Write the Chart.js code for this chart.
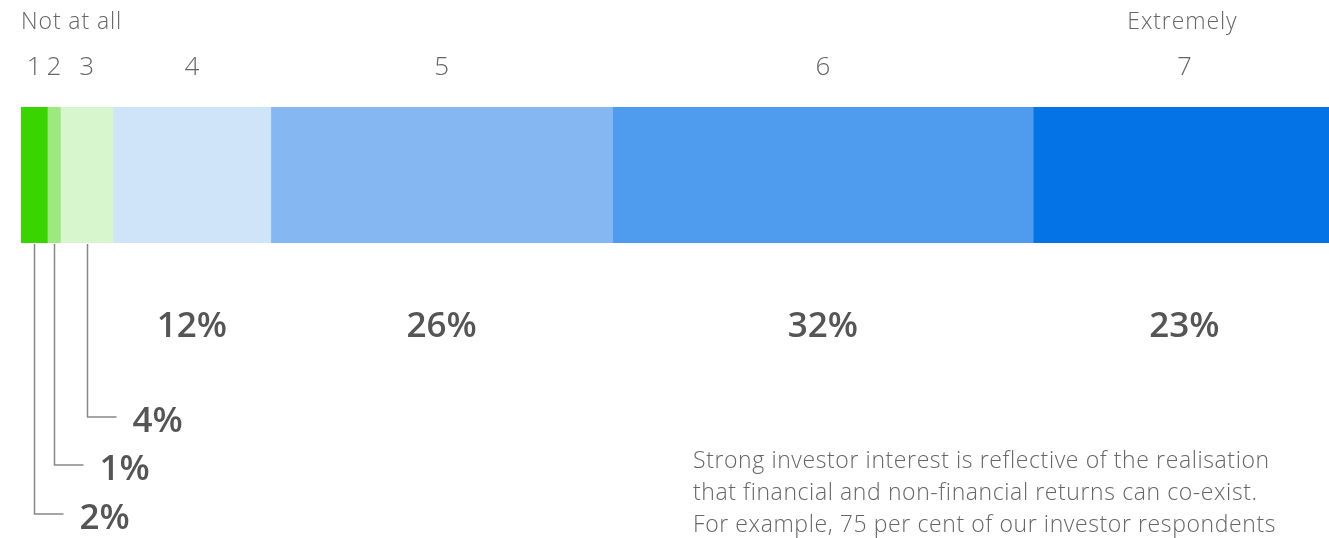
<!DOCTYPE html>
<html>
<head>
<meta charset="utf-8">
<script src="https://cdn.jsdelivr.net/npm/chart.js@4"></script>
<style>
  html, body { margin: 0; padding: 0; background: #fff; }
  #wrap { position: relative; width: 1329px; height: 538px; }
</style>
</head>
<body>
<div id="wrap"><canvas id="graficoBarra" width="1329" height="538"></canvas></div>
<script>
const escala = ['1', '2', '3', '4', '5', '6', '7'];
const valores = [2, 1, 4, 12, 26, 32, 23];
const cores = ['#3ad400', '#9de87f', '#d7f6cd', '#cfe3f9', '#85b8f3', '#4f9cef', '#0473e6'];
const rotuloEsquerda = 'Not at all';
const rotuloDireita = 'Extremely';
const nota = [
  'Strong investor interest is reflective of the realisation',
  'that financial and non-financial returns can co-exist.',
  'For example, 75 per cent of our investor respondents'
];

const fonte = '"Open Sans", "Noto Sans", sans-serif';

const rotulos = {
  id: 'rotulos',
  afterDraw(chart) {
    const ctx = chart.ctx;
    const x = chart.scales.x;
    let acumulado = 0;
    const centros = valores.map(v => {
      const c = x.getPixelForValue(acumulado + v / 2);
      acumulado += v;
      return c;
    });
    const area = chart.chartArea;
    ctx.save();

    // top labels
    ctx.fillStyle = '#666';
    ctx.textBaseline = 'middle';
    ctx.font = '300 23px ' + fonte;
    ctx.letterSpacing = '0.9px';
    ctx.textAlign = 'left';
    ctx.fillText(rotuloEsquerda, area.left, 22);
    ctx.textAlign = 'center';
    ctx.fillText(rotuloDireita, centros[6] - 2, 22);
    ctx.letterSpacing = '0px';
    ctx.font = '300 26px ' + fonte;
    escala.forEach((e, i) => ctx.fillText(e, centros[i], 68));

    // big percentages
    ctx.fillStyle = '#555';
    ctx.font = '600 35px ' + fonte;
    for (let i = 3; i < valores.length; i++) {
      ctx.fillText(valores[i] + '%', centros[i], 327);
    }

    // leader lines for small segments
    const niveis = [514, 465, 417];
    ctx.strokeStyle = '#888';
    ctx.lineWidth = 1.5;
    for (let i = 0; i < 3; i++) {
      const cx = Math.round(centros[i]) + 0.5;
      ctx.beginPath();
      ctx.moveTo(cx, area.bottom + 1);
      ctx.lineTo(cx, niveis[i]);
      ctx.lineTo(cx + 29, niveis[i]);
      ctx.stroke();
      ctx.textAlign = 'left';
      ctx.fillText(valores[i] + '%', cx + 45, niveis[i] + 5);
    }

    // note
    ctx.fillStyle = '#666';
    ctx.font = '300 23px ' + fonte;
    ctx.letterSpacing = '0.6px';
    ctx.textAlign = 'left';
    nota.forEach((linha, i) => ctx.fillText(linha, 693, 461 + i * 32));
    ctx.restore();
  }
};

new Chart(document.getElementById('graficoBarra').getContext('2d'), {
  type: 'bar',
  data: {
    labels: [''],
    datasets: valores.map((v, i) => ({
      label: escala[i],
      data: [v],
      backgroundColor: cores[i],
      borderWidth: 0,
      barPercentage: 1,
      categoryPercentage: 1
    }))
  },
  options: {
    indexAxis: 'y',
    responsive: false,
    animation: false,
    layout: { padding: { left: 21, right: 0, top: 107, bottom: 295 } },
    scales: {
      x: { stacked: true, min: 0, max: 99.5, display: false },
      y: { stacked: true, display: false }
    },
    plugins: {
      legend: { display: false },
      tooltip: { enabled: false }
    }
  },
  plugins: [rotulos]
});
</script>
</body>
</html>
